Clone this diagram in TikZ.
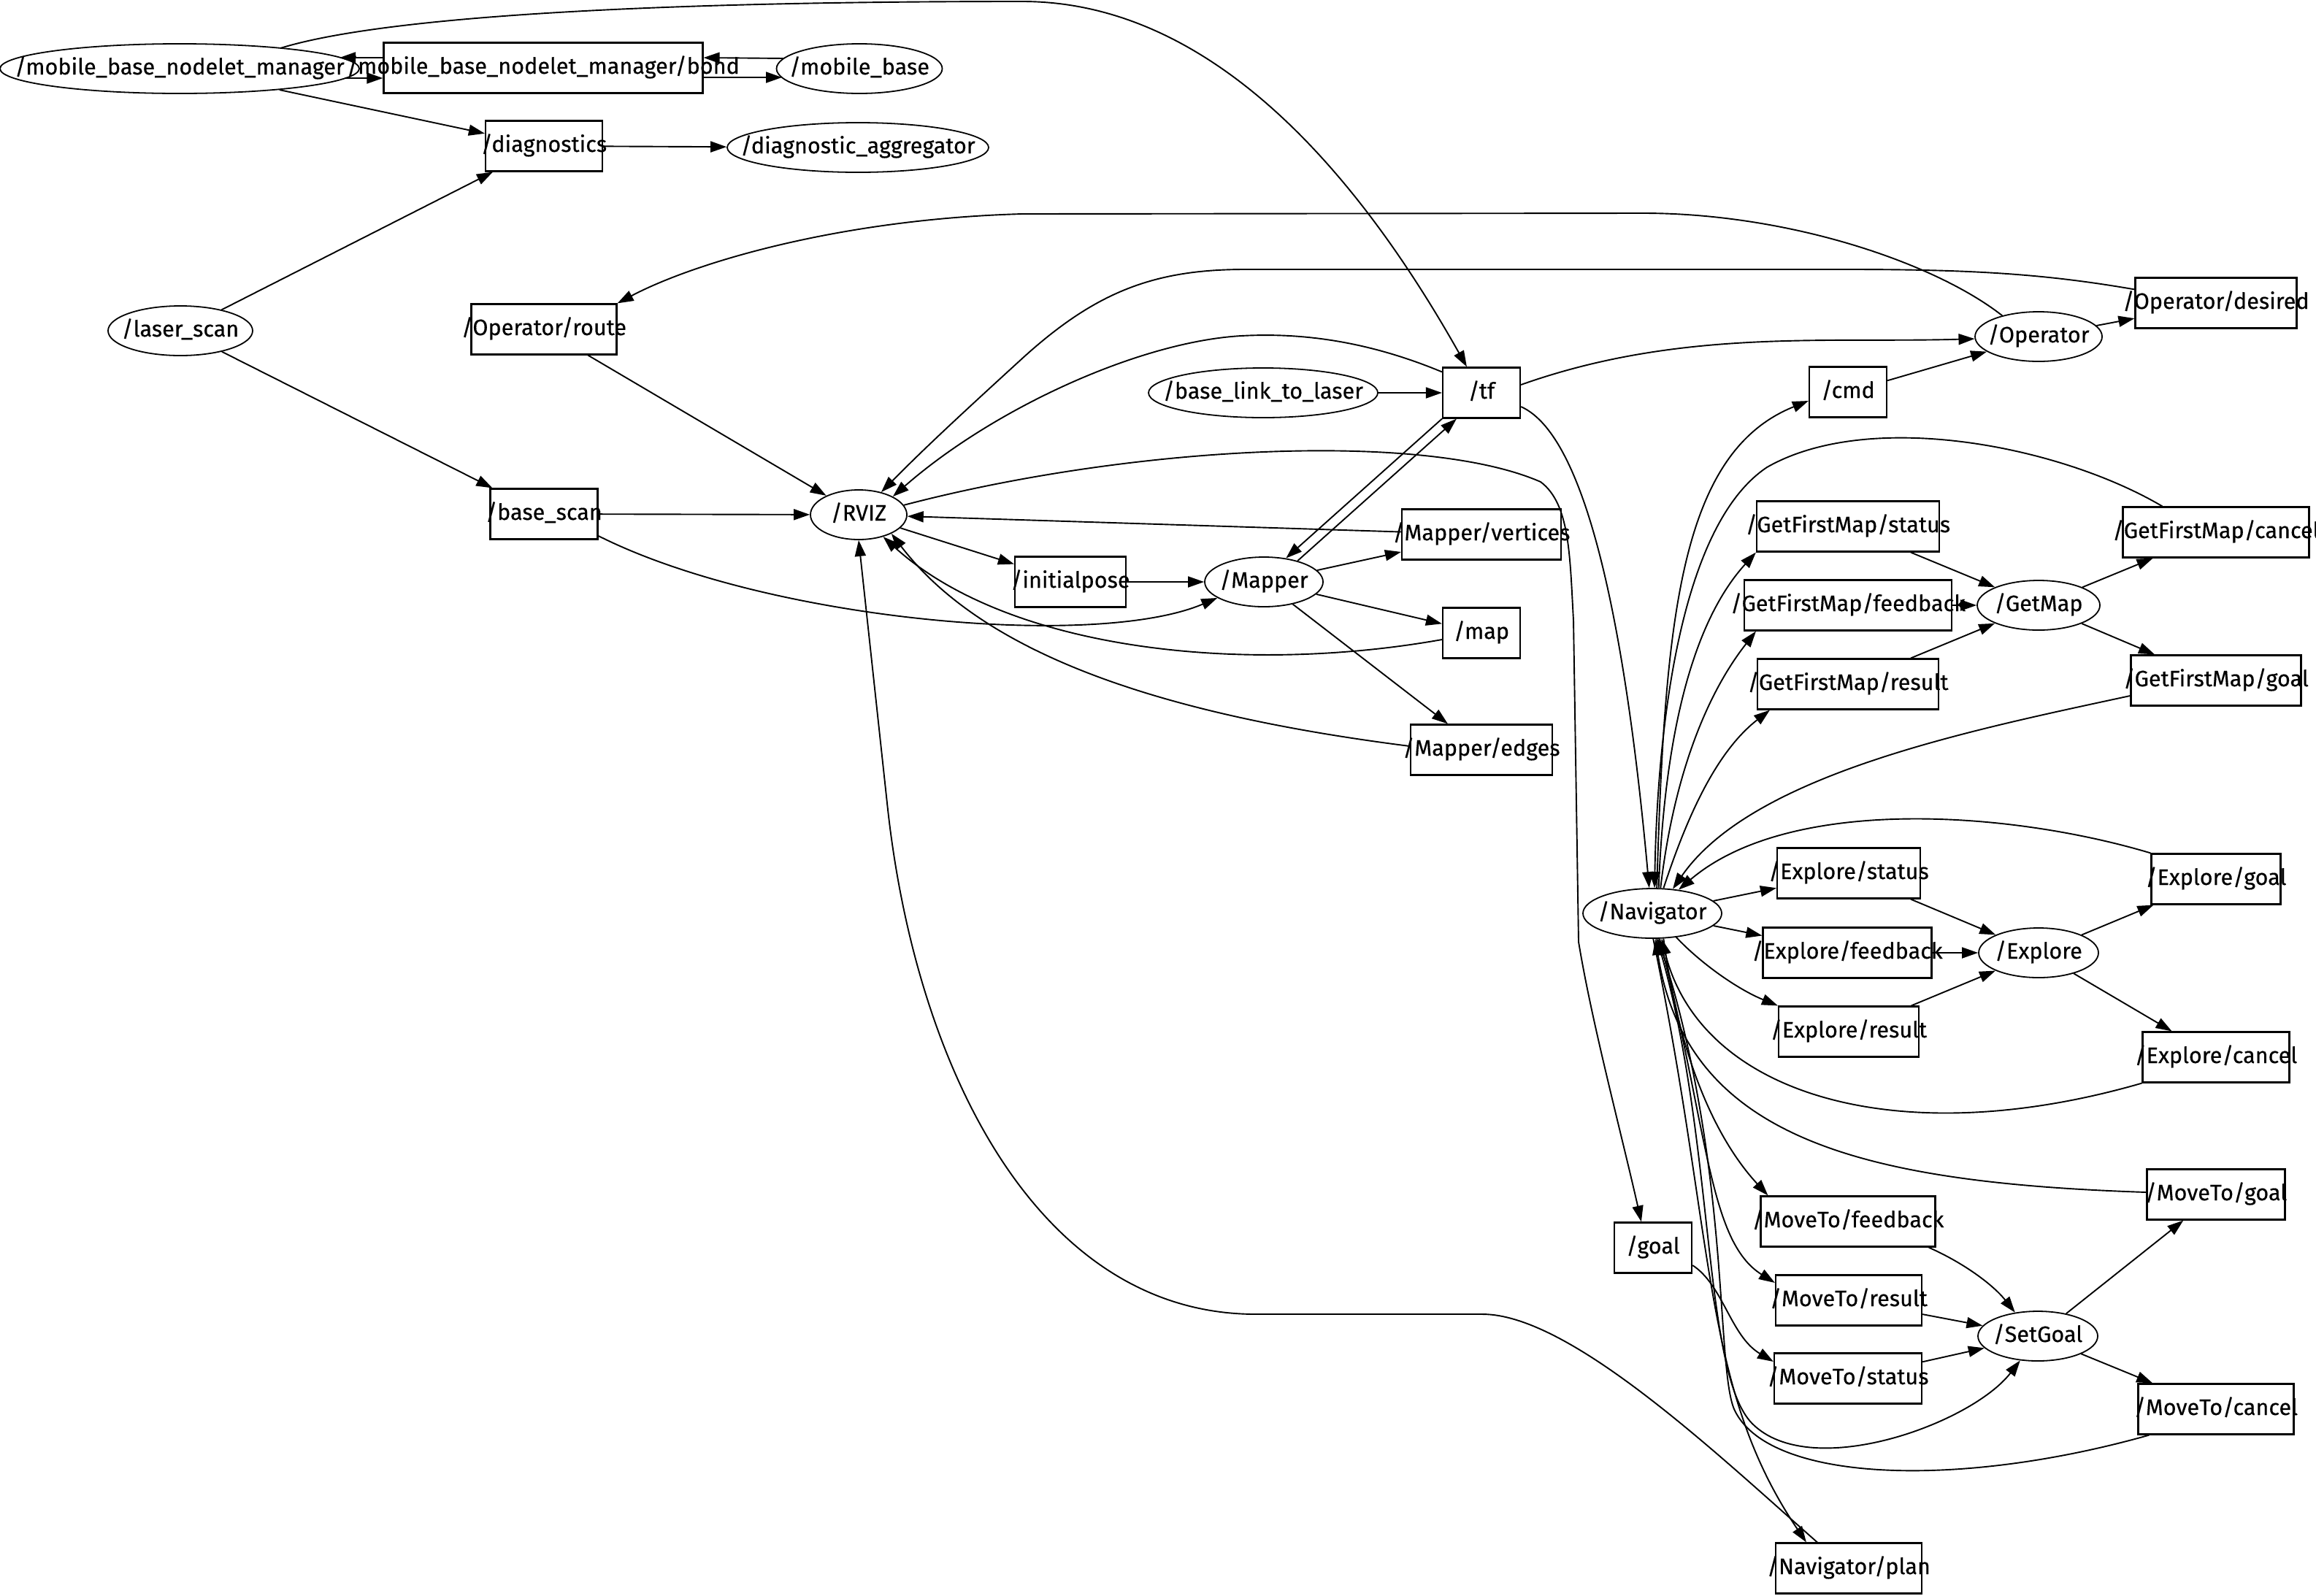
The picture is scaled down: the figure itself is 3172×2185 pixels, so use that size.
\documentclass[tikz,border=0pt]{standalone}
\usepackage{fontspec}
\newfontfamily\gfont[FakeBold=0.4]{Fira Sans}
\usetikzlibrary{shapes.geometric,arrows.meta,calc}
\newcommand\gbox[4]{\node[tb=#2] (#1) at (#3) {}; \node[tx] (#1-t) at (#1.center) {#4};}
\newcommand\gell[4]{\node[el=#2] (#1) at (#3) {}; \node[tx] (#1-t) at (#1.center) {#4};}
\begin{document}
\begin{tikzpicture}[x=0.5pt,y=-0.5pt,
  tb/.style={draw, rectangle, line width=1.1pt, minimum width=#1*0.5pt, minimum height=34.5pt, inner sep=0pt},
  el/.style={draw, ellipse, line width=0.9pt, minimum width=#1*0.5pt, minimum height=34pt, inner sep=0pt},
  tx/.style={font=\gfont\fontsize{15.3}{18}\selectfont, inner sep=0pt, text height=11pt, text depth=3pt},
  ed/.style={line width=0.95pt, -{Triangle[length=11pt,width=7.5pt]}}]
\useasboundingbox (0,0) rectangle (3172,2185);
% nodes
\gell{mbnm}{492}{246,94}{/mobile\_base\_nodelet\_manager}
\gell{mobbase}{227}{1177,94}{/mobile\_base}
\gbox{bond}{437}{744,93}{/mobile\_base\_nodelet\_manager/bond}
\gbox{diag}{160}{745,200}{/diagnostics}
\gell{diagagg}{358}{1175,202}{/diagnostic\_aggregator}
\gell{laser}{198}{247,453}{/laser\_scan}
\gbox{oproute}{199}{745,451}{/Operator/route}
\gbox{basescan}{147}{745,704}{/base\_scan}
\gell{rviz}{132}{1176,705}{/RVIZ}
\gbox{initpose}{152}{1466,797}{/initialpose}
\gell{bl2l}{314}{1730,538}{/base\_link\_to\_laser}
\gbox{tf}{106}{2029,538}{/tf}
\gell{mapper}{162}{1731,797}{/Mapper}
\gbox{mverts}{218}{2029,732}{/Mapper/vertices}
\gbox{map}{106}{2029,867}{/map}
\gbox{medges}{194}{2029,1027}{/Mapper/edges}
\gbox{cmd}{106}{2531,537}{/cmd}
\gell{operator}{174}{2792,461}{/Operator}
\gbox{opdesired}{221}{3035,415}{/Operator/desired}
\gbox{gfms}{250}{2531,721}{/GetFirstMap/status}
\gbox{gfmf}{284}{2531,829}{/GetFirstMap/feedback}
\gbox{gfmr}{248}{2531,937}{/GetFirstMap/result}
\gell{getmap}{168}{2792,829}{/GetMap}
\gbox{gfmc}{255}{3035,729}{/GetFirstMap/cancel}
\gbox{gfmg}{233}{3035,932}{/GetFirstMap/goal}
\gell{nav}{190}{2263,1251}{/Navigator}
\gbox{exs}{196}{2532,1196}{/Explore/status}
\gbox{exf}{231}{2530,1305}{/Explore/feedback}
\gbox{exr}{192}{2532,1413}{/Explore/result}
\gell{explore}{164}{2792,1305}{/Explore}
\gbox{exg}{177}{3035,1204}{/Explore/goal}
\gbox{exc}{201}{3035,1448}{/Explore/cancel}
\gbox{goal}{106}{2264,1709}{/goal}
\gbox{mtf}{239}{2531,1673}{/MoveTo/feedback}
\gbox{mtr}{200}{2532,1781}{/MoveTo/result}
\gbox{mts}{202}{2531,1888}{/MoveTo/status}
\gell{setgoal}{164}{2791,1830}{/SetGoal}
\gbox{mtg}{189}{3035,1636}{/MoveTo/goal}
\gbox{mtc}{213}{3035,1930}{/MoveTo/cancel}
\gbox{navplan}{200}{2532,2148}{/Navigator/plan}
% edges: top left
\draw[ed] ($(bond.west)+(0,-14)$) -- ($(mbnm.center)+(219,-15)$);
\draw[ed] ($(mbnm.center)+(226,13)$) -- ($(bond.west)+(0,14)$);
\draw[ed] ($(mobbase.center)+(-103,-14)$) -- ($(bond.east)+(0,-14)$);
\draw[ed] ($(bond.east)+(0,13)$) -- ($(mobbase.center)+(-106,12)$);
\draw[ed] (mbnm) -- (diag);
\draw[ed] ($(mbnm.center)+(138,-28)$) .. controls (500,30) and (800,2) .. (1400,2) .. controls (1650,2) and (1850,220) .. ($(tf.north west)+(34,0)$);
\draw[ed] (diag) -- (diagagg);
\draw[ed] (laser) -- (diag);
\draw[ed] (laser) -- (basescan);
\draw[ed] (basescan) -- (rviz);
\draw[ed] ($(basescan.east)+(0,30)$) .. controls (1050,850) and (1500,890) .. (mapper.199);
\draw[ed] (oproute) -- (rviz);
\draw[ed] (operator.150) .. controls (2650,360) and (2450,292) .. (2250,292) -- (1400,293) .. controls (1150,300) and (950,360) .. (oproute.north east);
\draw[ed] ($(opdesired.north west)+(0,17)$) .. controls (2800,375) and (2700,369) .. (2530,369) -- (1705,369) .. controls (1580,369) and (1500,400) .. (1400,491) .. controls (1330,555) and (1270,610) .. (rviz.45);
\draw[ed] ($(tf.north west)+(0,7)$) .. controls (1880,470) and (1790,455) .. (1700,460) .. controls (1560,468) and (1360,560) .. (rviz.28);
\draw[ed] (operator) -- (opdesired);
\draw[ed] (cmd) -- (operator);
\draw[ed] ($(tf.east)+(0,-11)$) .. controls (2300,450) and (2500,470) .. (operator.182);
\draw[ed] (bl2l) -- (tf);
\draw[ed] (tf.south west) -- (mapper.47);
\draw[ed] (mapper.32) -- ($(tf.south west)+(20,0)$);
\draw[ed] ($(tf.east)+(0,19)$) .. controls (2180,600) and (2230,900) .. (nav.97);
\draw[ed] (rviz) -- (initpose);
\draw[ed] (initpose) -- (mapper);
\draw[ed] (mapper) -- (mverts);
\draw[ed] (mapper) -- (map);
\draw[ed] (mapper) -- (medges);
\draw[ed] (mverts) -- (rviz);
\draw[ed] ($(map.west)+(0,9)$) .. controls (1700,925) and (1380,890) .. (rviz.-42);
\draw[ed] ($(medges.west)+(0,-5)$) .. controls (1600,980) and (1350,900) .. (rviz.-30);
\draw[ed] (rviz.12) .. controls (1550,610) and (1950,590) .. (2110,660) .. controls (2150,690) and (2150,760) .. (2155,850) -- (2162,1290) .. controls (2180,1400) and (2220,1550) .. ($(goal.north west)+(38,0)$);
\draw[ed] ($(navplan.north west)+(58,0)$) .. controls (2350,1990) and (2150,1800) .. (2030,1800) -- (1720,1800) .. controls (1420,1800) and (1253,1460) .. (1215,1100) -- (rviz.south);
% navigator
\draw[ed] (nav.80) .. controls (2280,850) and (2300,620) .. ($(cmd.west)+(0,12)$);
\draw[ed] (nav.76) .. controls (2280,1000) and (2320,850) .. (gfms.south west);
\draw[ed] (nav.72) .. controls (2290,1080) and (2330,960) .. ($(gfmf.south west)+(17,0)$);
\draw[ed] (nav.66) .. controls (2310,1120) and (2350,1030) .. ($(gfmr.south west)+(18,0)$);
\draw[ed] ($(gfmc.north west)+(55,0)$) .. controls (2820,610) and (2560,560) .. (2420,640) .. controls (2300,720) and (2270,1000) .. (nav.85);
\draw[ed] ($(gfmg.west)+(0,21)$) .. controls (2700,1000) and (2400,1060) .. (nav.50);
\draw[ed] (gfms) -- (getmap);
\draw[ed] (gfmf) -- (getmap);
\draw[ed] (gfmr) -- (getmap);
\draw[ed] (getmap) -- (gfmc);
\draw[ed] (getmap) -- (gfmg);
\draw[ed] (exg.north west) .. controls (2750,1110) and (2450,1090) .. (nav.42);
\draw[ed] (nav) -- (exs);
\draw[ed] (nav) -- (exf);
\draw[ed] (nav.-45) .. controls (2330,1320) and (2380,1355) .. (exr.north west);
\draw[ed] (exs) -- (explore);
\draw[ed] (exf) -- (explore);
\draw[ed] (exr) -- (explore);
\draw[ed] (explore) -- (exg);
\draw[ed] (explore) -- (exc);
\draw[ed] (exc.south west) .. controls (2600,1580) and (2330,1500) .. (nav.-70);
\draw[ed] ($(mtg.west)+(0,-3)$) .. controls (2550,1620) and (2310,1560) .. (nav.-83);
\draw[ed] ($(mtc.south west)+(16,0)$) .. controls (2680,2040) and (2420,2030) .. (2375,1930) .. controls (2350,1870) and (2370,1600) .. (nav.-77);
\draw[ed] (nav.-66) .. controls (2300,1450) and (2350,1560) .. ($(mtf.north west)+(11,0)$);
\draw[ed] (nav.-74) .. controls (2340,1550) and (2340,1700) .. ($(mtr.west)+(0,-24)$);
\draw[ed] ($(goal.east)+(0,24)$) .. controls (2360,1760) and (2370,1830) .. ($(mts.west)+(0,-23)$);
\draw[ed] ($(mtf.south east)+(-10,0)$) .. controls (2690,1730) and (2730,1760) .. (setgoal.134);
\draw[ed] (mtr) -- (setgoal);
\draw[ed] (mts) -- (setgoal);
\draw[ed] (setgoal) -- (mtg);
\draw[ed] (setgoal) -- (mtc);
\draw[ed] (nav.-80) .. controls (2350,1550) and (2330,1880) .. (2400,1950) .. controls (2480,2030) and (2700,1950) .. (setgoal.-126);
\draw[ed] (nav.-88) .. controls (2350,1700) and (2330,1900) .. ($(navplan.north west)+(43,0)$);
\end{tikzpicture}
\end{document}
